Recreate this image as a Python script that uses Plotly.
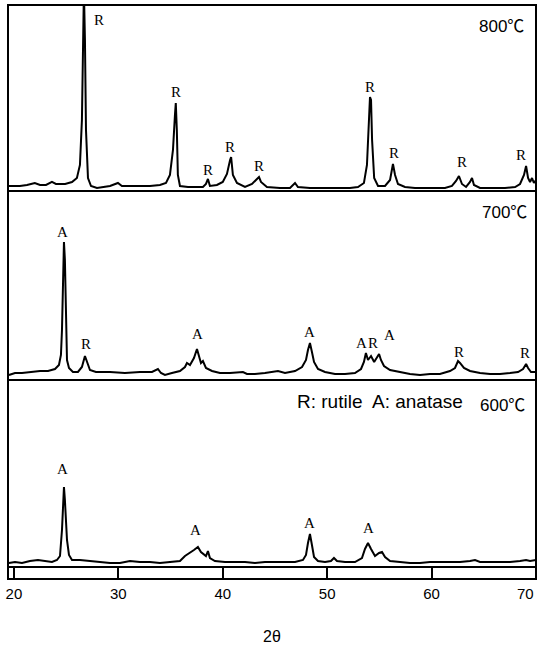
import plotly.graph_objects as go

# ---------------- data (2θ in degrees, intensity in arbitrary units) ----------------
theta_800 = [19.52, 20.57, 21.25, 22.0, 22.5, 23.07, 23.64, 24.02, 24.9, 25.56, 26.03, 26.32, 26.51,
             26.6, 26.7, 26.8, 26.9, 27.09, 27.38, 27.95, 28.62, 29.2, 29.96, 30.34, 31.1, 32.07,
             33.03, 33.98, 34.56, 34.94, 35.23, 35.42, 35.5, 35.6, 35.7, 35.9, 36.67, 37.3, 38.1,
             38.39, 38.58, 38.77, 39.44, 40.0, 40.4, 40.7, 40.8, 40.97, 41.36, 42.13, 42.8, 43.18,
             43.47, 43.66, 44.23, 45.48, 46.44, 46.92, 47.2, 48.35, 49.31, 50.27, 51.23, 52.18,
             52.95, 53.52, 53.81, 54.0, 54.1, 54.2, 54.3, 54.5, 54.87, 55.54, 56.02, 56.3, 56.5,
             56.78, 57.45, 58.41, 59.37, 60.33, 61.28, 61.95, 62.34, 62.62, 62.91, 63.3, 63.68,
             63.87, 64.06, 64.64, 65.6, 67.03, 68.0, 68.47, 68.85, 69.05, 69.24, 69.43, 69.62,
             69.8, 70.0]
int_800 = [5, 5, 6, 8, 6, 6, 9, 7, 7, 9, 13, 26, 71,
           151, 201, 151, 61, 13, 5, 3, 4, 5, 8, 5, 5, 5,
           5, 6, 8, 16, 41, 76, 88, 61, 16, 5, 4, 4, 4,
           7, 12, 5, 6, 9, 17, 31, 34, 16, 8, 4, 7, 11,
           14, 9, 4, 3, 3, 8, 4, 3, 3, 3, 3, 3,
           4, 8, 26, 71, 94, 91, 51, 13, 5, 5, 11, 27, 16,
           7, 4, 3, 3, 3, 3, 5, 10, 15, 7, 4, 9,
           13, 6, 3, 3, 3, 4, 7, 16, 25, 13, 9, 13,
           8, 11]

theta_700 = [19.52, 20.1, 20.77, 21.53, 22.5, 23.26, 23.93, 24.31, 24.5, 24.6, 24.69, 24.79, 24.88,
             24.98, 25.08, 25.27, 25.65, 26.13, 26.51, 26.8, 26.99, 27.28, 27.85, 29.2, 30.63,
             32.07, 33.22, 33.79, 34.08, 34.46, 35.13, 35.9, 36.38, 36.57, 36.86, 37.24, 37.53,
             37.72, 37.91, 38.1, 38.39, 38.97, 39.73, 40.69, 41.93, 42.32, 43.08, 44.04, 45.29,
             45.96, 46.92, 47.59, 47.97, 48.16, 48.35, 48.54, 48.74, 49.12, 49.79, 50.75, 51.71,
             52.66, 53.24, 53.52, 53.71, 53.91, 54.2, 54.5, 54.78, 54.97, 55.15, 55.44, 56.02,
             56.98, 57.93, 58.89, 59.85, 60.8, 61.76, 62.24, 62.53, 62.72, 63.1, 63.68, 64.64,
             65.6, 66.55, 67.51, 68.28, 68.76, 69.05, 69.24, 69.52, 70.0]
int_700 = [5, 7, 7, 8, 9, 9, 11, 15, 25, 50, 100, 138, 120,
           60, 20, 12, 8, 8, 13, 24, 18, 10, 8, 8, 7,
           8, 8, 11, 7, 5, 7, 9, 13, 17, 15, 22, 31,
           24, 17, 19, 12, 9, 7, 7, 8, 6, 6, 7, 9,
           7, 9, 13, 20, 30, 37, 28, 18, 11, 8, 6, 6,
           7, 11, 18, 27, 20, 24, 18, 23, 26, 20, 14, 10,
           8, 6, 5, 6, 6, 9, 12, 19, 17, 12, 9, 7,
           6, 6, 7, 8, 11, 16, 12, 8, 8]

theta_600 = [19.52, 20.1, 20.77, 21.53, 22.3, 22.97, 23.64, 24.12, 24.41, 24.6, 24.69, 24.79, 24.88,
             25.08, 25.27, 25.56, 26.32, 27.28, 28.24, 29.2, 30.15, 31.11, 32.07, 33.03, 33.98,
             34.94, 35.9, 36.38, 36.86, 37.24, 37.62, 37.91, 38.39, 38.58, 38.77, 39.25, 40.21,
             41.17, 42.13, 43.08, 44.04, 45.0, 45.96, 46.92, 47.68, 47.97, 48.16, 48.35, 48.54,
             48.74, 49.12, 49.79, 50.36, 50.65, 50.94, 51.71, 52.66, 53.33, 53.62, 53.91, 54.2,
             54.58, 54.97, 55.25, 55.54, 56.02, 56.98, 57.93, 58.89, 59.85, 60.8, 61.76, 62.72,
             63.68, 64.16, 64.64, 65.6, 66.55, 67.51, 68.47, 69.05, 69.43, 70.0]
int_600 = [4, 5, 4, 6, 7, 6, 5, 7, 11, 37, 67, 80, 67,
           27, 12, 7, 7, 6, 5, 4, 4, 6, 5, 5, 4,
           5, 6, 11, 14, 17, 20, 15, 11, 16, 9, 6, 5,
           5, 5, 4, 5, 5, 5, 5, 7, 12, 24, 33, 22,
           10, 6, 5, 6, 9, 6, 5, 5, 9, 18, 24, 18,
           11, 14, 15, 10, 6, 5, 4, 4, 5, 5, 5, 5,
           6, 7, 5, 5, 5, 5, 6, 7, 6, 7]

# peak labels: (2θ, intensity, phase letter)
labels_800_x = [28.14, 35.5, 38.58, 40.69, 43.47, 54.1, 56.4, 62.91, 68.56]
labels_800_y = [171, 99, 21, 44, 25, 104, 38, 29, 36]
labels_800_t = ["R", "R", "R", "R", "R", "R", "R", "R", "R"]

labels_700_x = [24.69, 26.9, 37.62, 48.35, 53.24, 54.39, 56.0, 62.62, 68.95]
labels_700_y = [148, 36, 46, 48, 37, 37, 45, 28, 27]
labels_700_t = ["A", "R", "A", "A", "A", "R", "A", "R", "R"]

labels_600_x = [24.69, 37.34, 48.35, 54.0]
labels_600_y = [98, 37, 44, 39]
labels_600_t = ["A", "A", "A", "A"]

x_ticks = [20, 30, 40, 50, 60, 70]
x_tick_labels = ["20", "30", "40", "50", "60", "70"]
x_range = [19.43, 70.0]

# panel layout (paper fractions)
dom_600 = [0.0209, 0.3467]
dom_700 = [0.3467, 0.676]
dom_800 = [0.676, 1.0]

fig = go.Figure()
line_style = dict(color="black", width=2)
fig.add_trace(go.Scatter(x=theta_800, y=int_800, mode="lines", line=line_style,
                         xaxis="x", yaxis="y3", showlegend=False, hoverinfo="skip"))
fig.add_trace(go.Scatter(x=theta_700, y=int_700, mode="lines", line=line_style,
                         xaxis="x", yaxis="y2", showlegend=False, hoverinfo="skip"))
fig.add_trace(go.Scatter(x=theta_600, y=int_600, mode="lines", line=line_style,
                         xaxis="x", yaxis="y", showlegend=False, hoverinfo="skip"))

annotations = []
serif = dict(family="Liberation Serif, Times New Roman, serif", size=15, color="black")
for xs, ys, ts, yref in [(labels_800_x, labels_800_y, labels_800_t, "y3"),
                         (labels_700_x, labels_700_y, labels_700_t, "y2"),
                         (labels_600_x, labels_600_y, labels_600_t, "y")]:
    for xv, yv, tv in zip(xs, ys, ts):
        annotations.append(dict(x=xv, y=yv, xref="x", yref=yref, text=tv, showarrow=False,
                                font=serif, xanchor="center", yanchor="middle"))

sans = "Liberation Sans, Arial, Noto Sans CJK JP, sans-serif"
tick_font = dict(family="Liberation Sans Narrow, Liberation Sans, Arial, sans-serif",
                 size=15, color="black")
annotations += [
    dict(x=0.981, y=0.962, xref="paper", yref="paper", text="800℃", showarrow=False,
         xanchor="right", yanchor="middle", font=dict(family=sans, size=17, color="black")),
    dict(x=0.987, y=0.638, xref="paper", yref="paper", text="700℃", showarrow=False,
         xanchor="right", yanchor="middle", font=dict(family=sans, size=17, color="black")),
    dict(x=0.866, y=0.309, xref="paper", yref="paper", text="R: rutile  A: anatase", showarrow=False,
         xanchor="right", yanchor="middle", font=dict(family=sans, size=19, color="black")),
    dict(x=0.983, y=0.303, xref="paper", yref="paper", text="600℃", showarrow=False,
         xanchor="right", yanchor="middle", font=dict(family=sans, size=17, color="black")),
    dict(x=0.5, y=-0.101, xref="paper", yref="paper", text="2θ", showarrow=False,
         xanchor="center", yanchor="middle", font=dict(family=sans, size=16, color="black")),
    # last tick label kept inside the page, right-aligned to the frame edge
    dict(x=1.0, y=-0.0244, xref="paper", yref="paper", text=x_tick_labels[-1], showarrow=False,
         xanchor="right", yanchor="middle", font=tick_font),
]

shapes = [dict(type="rect", xref="paper", yref="paper", x0=0, x1=1, y0=0, y1=1,
               line=dict(color="black", width=2))]
for yv in [dom_600[0], dom_700[0], dom_800[0]]:
    shapes.append(dict(type="line", xref="paper", yref="paper", x0=0, x1=1, y0=yv, y1=yv,
                       line=dict(color="black", width=2)))

fig.update_layout(
    width=538, height=648,
    margin=dict(l=8, r=2, t=5, b=69, autoexpand=False),
    paper_bgcolor="white", plot_bgcolor="white",
    xaxis=dict(range=x_range, domain=[0, 1], anchor="free", position=0,
               tickvals=x_ticks, ticktext=x_tick_labels[:-1] + [""],
               ticks="inside", ticklen=12, tickwidth=1.5, tickcolor="black",
               ticklabeloverflow="allow", ticklabelstandoff=4, automargin=False,
               showgrid=False, zeroline=False, showline=False,
               tickfont=tick_font,
               fixedrange=True),
    yaxis=dict(domain=dom_600, range=[0, 187], visible=False, anchor="x", fixedrange=True),
    yaxis2=dict(domain=dom_700, range=[0, 189], visible=False, anchor="x", fixedrange=True),
    yaxis3=dict(domain=dom_800, range=[0, 186], visible=False, anchor="x", fixedrange=True),
    annotations=annotations,
    shapes=shapes,
)

fig.write_html("out.html")
